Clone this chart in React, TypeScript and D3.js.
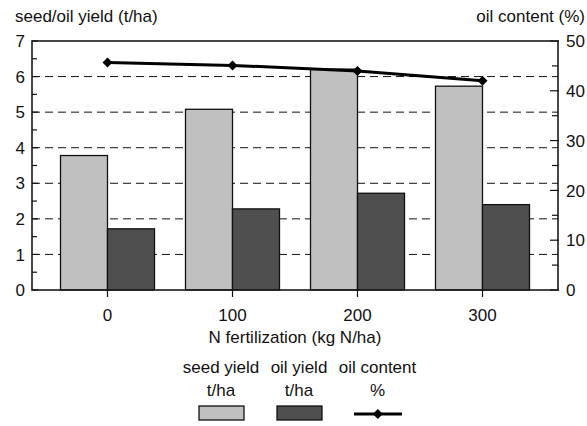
import React from "react";
import * as d3 from "d3";

const categories = ["0", "100", "200", "300"];
const seedYield = [3.78, 5.08, 6.21, 5.73];
const oilYield = [1.72, 2.28, 2.72, 2.4];
const oilContent = [45.7, 45.1, 44.0, 42.0];
const leftTicks = [0, 1, 2, 3, 4, 5, 6, 7];
const rightTicks = [0, 10, 20, 30, 40, 50];
const legendLabels = [
  ["seed yield", "t/ha"],
  ["oil yield", "t/ha"],
  ["oil content", "%"],
];

const W = 587;
const H = 426;
const L = 32, R = 558, T = 41, B = 290;
const FONT = "'Liberation Sans', Arial, sans-serif";
const SEED = "#c0c0c0";
const OIL = "#4f4f4f";

export default function App() {
  const x = d3.scalePoint<string>().domain(categories).range([L, R]).padding(0.604);
  const yL = d3.scaleLinear().domain([0, 7]).range([B, T]);
  const yR = d3.scaleLinear().domain([0, 50]).range([B, T]);
  const bw = 47;
  const line = d3
    .line<number>()
    .x((_, i) => x(categories[i]) as number)
    .y((d) => yR(d));
  const diamond = (cx: number, cy: number, s = 5) =>
    `M${cx},${cy - s}L${cx + s},${cy}L${cx},${cy + s}L${cx - s},${cy}Z`;
  const halfTicks = d3.range(0.5, 7, 1);
  const rightMinor = d3.range(5, 50, 10);

  const legCx = [221, 299, 377.5];

  return (
    <svg width={W} height={H} style={{ position: "absolute", left: 0, top: 0 }} fontFamily={FONT}>
      <rect x={0} y={0} width={W} height={H} fill="#fff" />
      {/* gridlines */}
      {leftTicks.slice(1, 7).map((t) => (
        <line key={"g" + t} x1={L} x2={R} y1={yL(t)} y2={yL(t)} stroke="#111" strokeWidth={1} strokeDasharray="8,5" />
      ))}
      {/* left ticks */}
      {leftTicks.map((t) => (
        <line key={"lt" + t} x1={L} x2={L + 6} y1={yL(t)} y2={yL(t)} stroke="#111" strokeWidth={1.2} />
      ))}
      {halfTicks.map((t) => (
        <line key={"lh" + t} x1={L} x2={L + 5} y1={yL(t)} y2={yL(t)} stroke="#111" strokeWidth={1.2} />
      ))}
      {/* right ticks */}
      {rightTicks.map((t) => (
        <line key={"rt" + t} x1={R - 8} x2={R + 1} y1={yR(t)} y2={yR(t)} stroke="#111" strokeWidth={1.2} />
      ))}
      {rightMinor.map((t) => (
        <line key={"rm" + t} x1={R - 6} x2={R} y1={yR(t)} y2={yR(t)} stroke="#111" strokeWidth={1.2} />
      ))}
      {/* bars */}
      {categories.map((c, i) => {
        const cx = x(c) as number;
        return (
          <g key={"b" + c}>
            <rect x={cx - bw} y={yL(seedYield[i])} width={bw} height={B - yL(seedYield[i])} fill={SEED} stroke="#111" strokeWidth={1.3} />
            <rect x={cx} y={yL(oilYield[i])} width={bw} height={B - yL(oilYield[i])} fill={OIL} stroke="#111" strokeWidth={1.3} />
          </g>
        );
      })}
      {/* frame */}
      <rect x={L} y={T} width={R - L} height={B - T} fill="none" stroke="#1a1a1a" strokeWidth={1.6} />
      {/* x ticks */}
      {categories.map((c) => (
        <line key={"xt" + c} x1={x(c)} x2={x(c)} y1={B} y2={B + 7} stroke="#111" strokeWidth={1.2} />
      ))}
      {/* line */}
      <path d={line(oilContent) || ""} fill="none" stroke="#000" strokeWidth={3} />
      {oilContent.map((v, i) => (
        <path key={"d" + i} d={diamond(x(categories[i]) as number, yR(v))} fill="#000" />
      ))}
      {/* tick labels */}
      {leftTicks.map((t) => (
        <text key={"ll" + t} x={25} y={yL(t)} dy="0.36em" textAnchor="end" fontSize={17} fill="#111">
          {t}
        </text>
      ))}
      {rightTicks.map((t) => (
        <text key={"rl" + t} x={566} y={yR(t)} dy="0.36em" textAnchor="start" fontSize={17} fill="#111">
          {t}
        </text>
      ))}
      {categories.map((c) => (
        <text key={"xl" + c} x={x(c)} y={320.5} textAnchor="middle" fontSize={17} fill="#111">
          {c}
        </text>
      ))}
      {/* titles */}
      <text x={15} y={21.5} fontSize={17} fill="#111">seed/oil yield (t/ha)</text>
      <text x={585} y={21.5} textAnchor="end" fontSize={17} fill="#111">oil content (%)</text>
      <text x={295} y={343} textAnchor="middle" fontSize={17} fill="#111">N fertilization (kg N/ha)</text>
      {/* legend */}
      {legendLabels.map((lab, i) => (
        <g key={"lg" + i}>
          <text x={legCx[i]} y={373} textAnchor="middle" fontSize={17} fill="#111">{lab[0]}</text>
          <text x={legCx[i]} y={396} textAnchor="middle" fontSize={17} fill="#111">{lab[1]}</text>
        </g>
      ))}
      <rect x={199} y={406} width={45} height={14} fill={SEED} stroke="#111" strokeWidth={1.3} />
      <rect x={277} y={406} width={45} height={14} fill={OIL} stroke="#111" strokeWidth={1.3} />
      <line x1={354} x2={402} y1={414} y2={414} stroke="#000" strokeWidth={3} />
      <path d={diamond(377.8, 414)} fill="#000" />
    </svg>
  );
}
